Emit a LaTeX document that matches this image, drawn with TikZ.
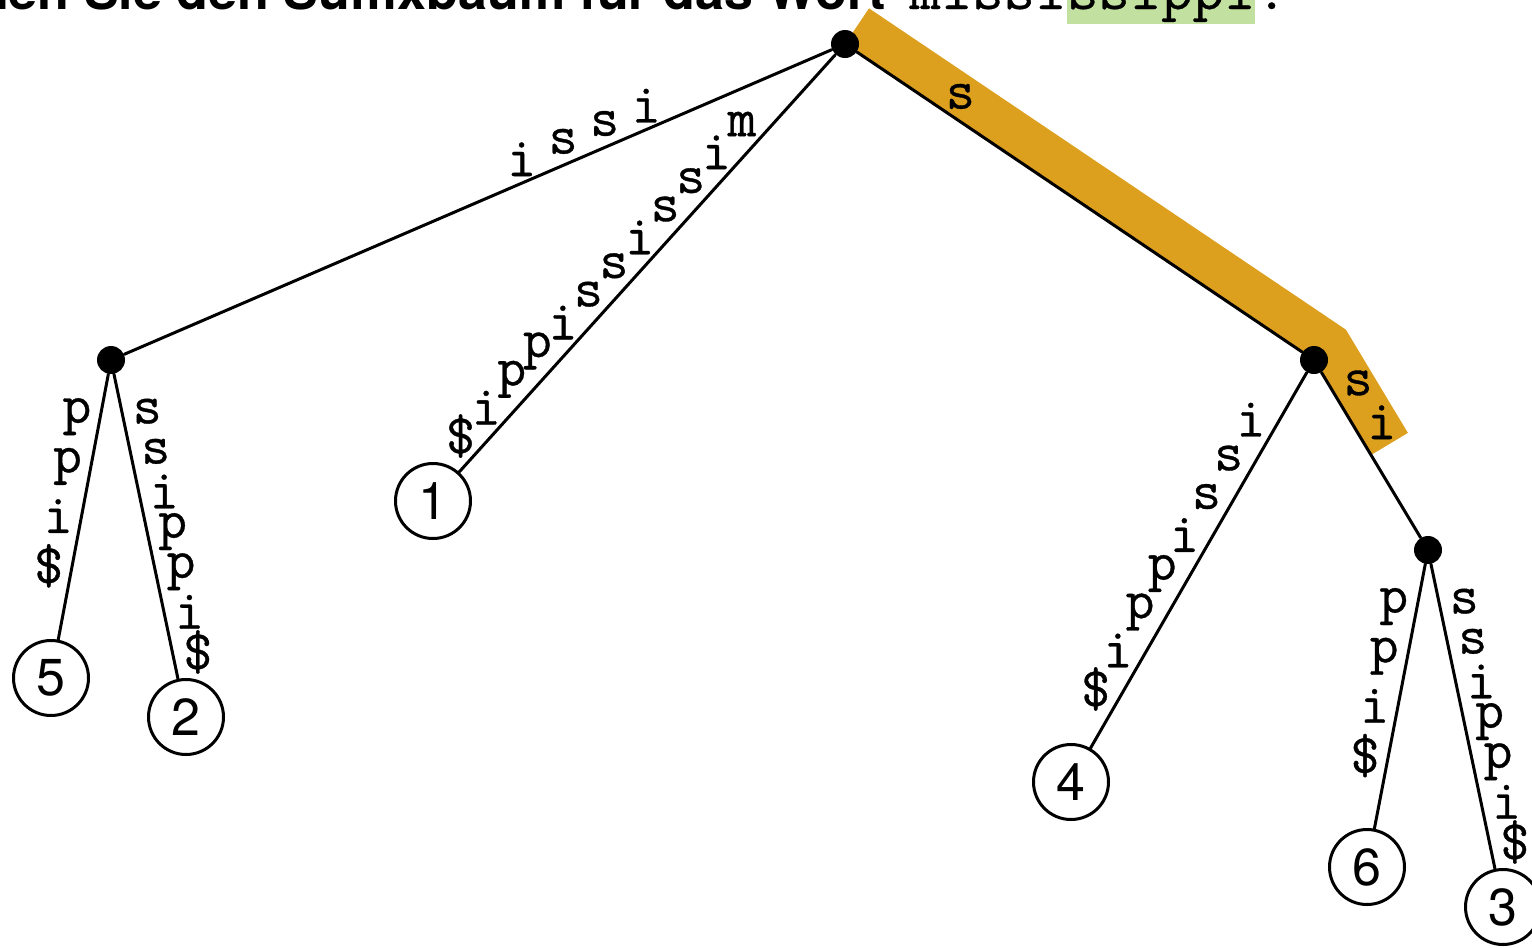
\documentclass[tikz,border=0pt]{standalone}
\usepackage{fontspec}
\setsansfont{TeX Gyre Heros}
\newfontfamily\labtt[FakeBold=0.6]{Latin Modern Mono}
\newfontfamily\wordtt[FakeStretch=1.05, FakeBold=0.6]{Latin Modern Mono}
\usetikzlibrary{calc,positioning,backgrounds}
\definecolor{bandgold}{RGB}{220,160,30}
\definecolor{hlgreen}{RGB}{194,224,160}

% letters of an edge label, set one by one beside the edge
% #1,#2 end nodes, #3 first distance, #4 step, #5 offset, #6 side angle, #7 letters
\newcommand{\edgeletters}[7]{%
  \foreach \ltr [count=\n] in {#7}{%
    \pgfmathsetmacro\dist{#3+(\n-1)*#4}
    \node[lab] at ($(#1.center)!\dist pt!(#2.center)!#5pt!#6:(#2.center)$) {\ltr};}}

\begin{document}
\begin{tikzpicture}[x=0.5pt, y=-0.5pt, line cap=round, line join=round,
    inode/.style={circle, fill=black, inner sep=0pt, minimum size=14pt},
    leaf/.style={circle, draw, fill=white, line width=1.5pt, inner sep=0pt,
      minimum size=37.5pt, font=\sffamily\fontsize{26}{31}\selectfont},
    link/.style={line width=1.5pt},
    lab/.style={inner sep=0pt, font=\labtt\fontsize{28}{33}\selectfont},
    word/.style={inner sep=0pt, anchor=base west, text depth=7.5pt,
      font=\wordtt\fontsize{29}{34}\selectfont}]
  \useasboundingbox (0,0) rectangle (1532,948);
  \clip (0,0) rectangle (1532,948);

  % Task line, cut off at the top
  \node[anchor=base east, inner sep=0pt,
    font=\sffamily\bfseries\fontsize{26}{31}\selectfont] (task) at (886,9)
    {Zeichnen Sie den Suffixbaum für das Wort};
  \node[word] (w1) at (909,9) {missi};
  \node[word, fill=hlgreen] (w2) at (w1.base east) {ssippi};
  \node[word] (w3) at (w2.base east) {.};

  % Inner nodes
  \node[inode] (root) at (845,44) {};
  \node[inode] (A) at (111,360) {};
  \node[inode] (B) at (1314,360) {};
  \node[inode] (C) at (1428,550) {};

  % Leaves, numbered by suffix
  \node[leaf] (l1) at (433,501) {1};
  \node[leaf] (l5) at (51,678) {5};
  \node[leaf] (l2) at (186,717) {2};
  \node[leaf] (l4) at (1071,782) {4};
  \node[leaf] (l6) at (1367,867) {6};
  \node[leaf] (l3) at (1503,907) {3};

  % Highlighted path s + si
  \coordinate (r1) at ($(root.center)!21.5pt!90:(B.center)$);
  \coordinate (b1) at ($(B.center)!21.5pt!-90:(root.center)$);
  \coordinate (b2) at ($(B.center)!21.5pt!90:(C.center)$);
  \coordinate (e) at ($(B.center)!0.5!(C.center)$);
  \coordinate (e2) at ($(e)!21.5pt!-90:(B.center)$);
  \coordinate (kink) at (intersection of r1--b1 and b2--e2);
  \begin{scope}[on background layer]
    \fill[bandgold] (root.center) -- (r1) -- (kink) -- (e2) -- (e) -- (B.center) -- cycle;
  \end{scope}

  % Edges
  \foreach \u/\v in {root/A, root/l1, root/B, A/l5, A/l2, B/l4, B/C, C/l6, C/l3}
    \draw[link] (\u) -- (\v);

  % Edge labels
  \edgeletters{root}{A}{103.5}{22.6}{11}{-90}{i,s,s,i}
  \edgeletters{root}{l1}{64.2}{19.1}{11.5}{-90}{m,i,s,s,i,s,s,i,p,p,i,\$}
  \edgeletters{root}{B}{62.5}{0}{10.5}{90}{s}
  \edgeletters{B}{C}{21.2}{22.9}{13}{90}{s,i}
  \edgeletters{A}{l5}{31}{25.3}{11.5}{-90}{p,p,i,\$}
  \edgeletters{A}{l2}{28.8}{20.5}{12.5}{90}{s,s,i,p,p,i,\$}
  \edgeletters{B}{l4}{41.6}{22.2}{12.5}{-90}{i,s,s,i,p,p,i,\$}
  \edgeletters{C}{l6}{31}{25.3}{11.5}{-90}{p,p,i,\$}
  \edgeletters{C}{l3}{28.8}{20.5}{12.5}{90}{s,s,i,p,p,i,\$}
\end{tikzpicture}
\end{document}
